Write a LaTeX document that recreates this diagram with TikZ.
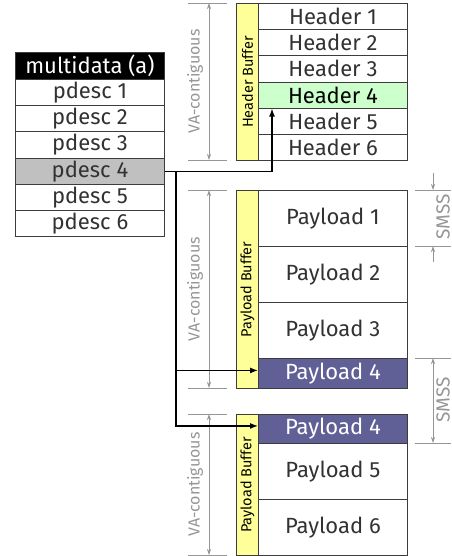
\documentclass[tikz,border=0pt]{standalone}
\usepackage{fontspec}
\setmainfont{Fira Sans}
\usetikzlibrary{arrows.meta}
\definecolor{bufyellow}{RGB}{255,255,153}
\definecolor{hdrgreen}{RGB}{204,255,204}
\definecolor{descgray}{RGB}{192,192,192}
\definecolor{payblue}{RGB}{96,96,150}
\definecolor{cellline}{RGB}{60,60,60}
\definecolor{celltext}{RGB}{50,50,50}
\definecolor{dimgray}{RGB}{150,150,150}

\begin{document}
\begin{tikzpicture}[x=1pt,y=-1pt,
    cell/.style={draw=cellline,line width=0.9pt,inner sep=0pt,anchor=north west,
      minimum width=149pt,text=celltext,font=\fontsize{22}{22}\selectfont},
    bar/.style={draw=cellline,line width=0.9pt,fill=bufyellow,inner sep=0pt,
      anchor=north west,minimum width=22pt},
    barlbl/.style={rotate=90,font=\fontsize{14.5}{14.5}\selectfont},
    dim/.style={draw=dimgray,line width=0.7pt},
    dimlbl/.style={rotate=90,text=dimgray,font=\fontsize{16}{16}\selectfont},
    link/.style={-{Latex[length=8pt,width=6pt]},line width=1.3pt}]
  \useasboundingbox (0,0) rectangle (451,556);

  % descriptor table
  \node[cell,fill=black,text=white,minimum height=27pt] (md) at (15,52) {multidata (a)};
  \foreach \i/\f in {1/white,2/white,3/white,4/descgray,5/white,6/white}
    \node[cell,fill=\f,minimum height=26.2pt] (d\i) at (15,{79+(\i-1)*26.2}) {pdesc \i};

  % header buffer
  \node[bar,minimum height=157pt] (hbar) at (236,3) {};
  \node[barlbl] (hlbl) at (hbar.center) {Header Buffer};
  \foreach \i/\f/\c in {1/white/celltext,2/white/celltext,3/white/celltext,
      4/hdrgreen/black,5/white/celltext,6/white/celltext}
    \node[cell,fill=\f,text=\c,minimum height=26.17pt] (h\i) at (258,{3+(\i-1)*26.17}) {Header \i};

  % first payload buffer
  \node[bar,minimum height=198pt] (pbar) at (236,190) {};
  \node[barlbl] (plbl) at (pbar.center) {Payload Buffer};
  \foreach \i in {1,2,3}
    \node[cell,minimum height=56pt] (p\i) at (258,{190+(\i-1)*56}) {Payload \i};
  \node[cell,fill=payblue,text=white,minimum height=30pt] (p4a) at (258,358) {Payload 4};

  % second payload buffer
  \node[bar,minimum height=141pt] (qbar) at (236,414) {};
  \node[barlbl] (qlbl) at (qbar.center) {Payload Buffer};
  \node[cell,fill=payblue,text=white,minimum height=29pt] (p4b) at (258,414) {Payload 4};
  \node[cell,minimum height=56pt] (p5) at (258,443) {Payload 5};
  \node[cell,minimum height=56pt] (p6) at (258,499) {Payload 6};

  % VA-contiguous extents
  \foreach \t/\b/\n in {3/160/va1,190/388/va2,414/555/va3}{
    \draw[dim] (188,\t) -- (227,\t) (188,\b) -- (227,\b);
    \draw[dim,{Stealth[length=6pt,width=4pt]}-{Stealth[length=6pt,width=4pt]}] (209,\t) -- (209,\b);
    \node[dimlbl] (\n) at (195,{(\t+\b)/2}) {VA-contiguous};
  }

  % SMSS extents
  \draw[dim] (415,190) -- (451,190) (415,246) -- (451,246);
  \draw[dim,-{Stealth[length=6pt,width=4pt]}] (433,173) -- (433,190);
  \draw[dim,-{Stealth[length=6pt,width=4pt]}] (433,262) -- (433,246);
  \node[dimlbl,font=\fontsize{19}{19}\selectfont] (smss1) at (443,217) {SMSS};
  \draw[dim] (415,358) -- (451,358) (415,443) -- (451,443);
  \draw[dim,{Stealth[length=6pt,width=4pt]}-{Stealth[length=6pt,width=4pt]}] (433,358) -- (433,443);
  \node[dimlbl,font=\fontsize{19}{19}\selectfont] (smss2) at (443,400) {SMSS};

  % descriptor links
  \coordinate (split) at ([xshift=11pt]d4.east);
  \draw[link] (d4.east) -| ([xshift=14pt]h4.south west);
  \draw[link] (split) |- ([yshift=3pt]p4a.west);
  \draw[link] (split) |- ([yshift=3pt]p4b.west);
\end{tikzpicture}
\end{document}
